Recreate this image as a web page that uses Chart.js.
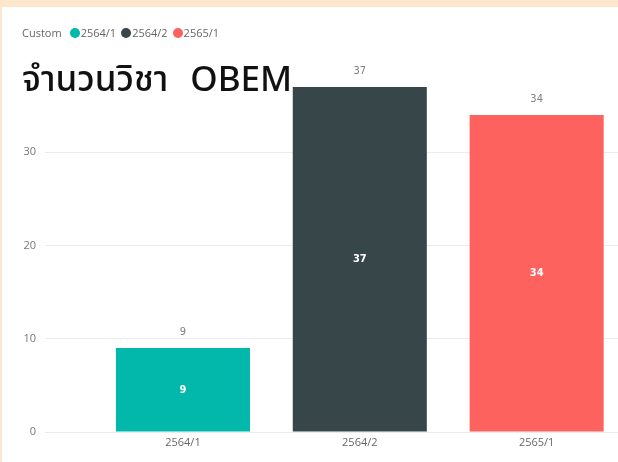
<!DOCTYPE html>
<html>
<head>
<meta charset="utf-8">
<script src="https://cdn.jsdelivr.net/npm/chart.js@4.4.0/dist/chart.umd.min.js"></script>
<style>
  html, body { margin: 0; padding: 0; background: #fff; }
  #wrap { position: relative; width: 618px; height: 462px; overflow: hidden; background: #fff; }
  #topband { position: absolute; left: 0; top: 0; width: 618px; height: 7px; background: #fde6cc; }
  #leftband { position: absolute; left: 0; top: 0; width: 2px; height: 462px; background: #fde6cc; }
  #chart { position: absolute; left: 0; top: 0; }
  #legend { position: absolute; left: 22px; top: 25px; font-family: "Open Sans", "Noto Sans", sans-serif; font-size: 11px; color: #666; display: flex; align-items: center; white-space: nowrap; line-height: 16px; }
  #legend .t { margin-right: 8px; }
  #legend .dot { width: 10px; height: 10px; border-radius: 50%; display: inline-block; margin-right: 1px; }
  #legend .lab { margin-right: 5px; }
  #title { position: absolute; left: 22px; top: 56px; white-space: nowrap; color: #111; font-family: "Noto Sans", "Noto Sans Thai", "DejaVu Sans", sans-serif; font-weight: 500; font-size: 35px; line-height: 44px; word-spacing: 13px; }
</style>
</head>
<body>
<div id="wrap">
  <canvas id="chart" width="618" height="462"></canvas>
  <div id="topband"></div>
  <div id="leftband"></div>
  <div id="legend"></div>
  <div id="title">จำนวนวิชา OBEM</div>
</div>
<script>
const categories = ["2564/1", "2564/2", "2565/1"];
const values = [9, 37, 34];
const barColors = ["#01B8AA", "#374649", "#FD625E"];
const yTicks = [0, 10, 20, 30];
const legendTitle = "Custom";

// HTML legend built from the arrays
const legendEl = document.getElementById('legend');
const t = document.createElement('span'); t.className = 't'; t.textContent = legendTitle; legendEl.appendChild(t);
categories.forEach((c, i) => {
  const d = document.createElement('span'); d.className = 'dot'; d.style.background = barColors[i]; legendEl.appendChild(d);
  const l = document.createElement('span'); l.className = 'lab'; l.textContent = c; legendEl.appendChild(l);
});

const labelPlugin = {
  id: 'barLabels',
  afterDatasetsDraw(chart) {
    const ctx = chart.ctx;
    const meta = chart.getDatasetMeta(0);
    ctx.save();
    ctx.textAlign = 'center';
    ctx.textBaseline = 'middle';
    meta.data.forEach((bar, i) => {
      const v = values[i];
      ctx.font = '11px "DejaVu Sans Condensed", "Liberation Sans Narrow", sans-serif';
      ctx.fillStyle = '#808080';
      ctx.fillText(String(v), bar.x, bar.y - 16);
      ctx.font = 'bold 11px "DejaVu Sans Condensed", "Liberation Sans Narrow", sans-serif';
      ctx.fillStyle = '#ffffff';
      ctx.fillText(String(v), bar.x, (bar.y + bar.base) / 2);
    });
    ctx.restore();
  }
};

new Chart(document.getElementById('chart'), {
  type: 'bar',
  data: {
    datasets: [{
      data: categories.map((c, i) => ({ x: i, y: values[i] })),
      backgroundColor: barColors,
      borderWidth: 0,
      categoryPercentage: 1,
      barPercentage: 0.758
    }]
  },
  options: {
    responsive: false,
    animation: false,
    events: [],
    layout: { padding: { top: 59, left: 0, right: 0, bottom: 0 } },
    plugins: { legend: { display: false }, tooltip: { enabled: false }, title: { display: false } },
    scales: {
      x: {
        type: 'linear',
        offset: false,
        bounds: 'data',
        min: -0.78,
        max: 2.46,
        grid: { display: false, drawTicks: false, offset: false },
        border: { display: false },
        afterBuildTicks: (s) => { s.ticks = categories.map((c, i) => ({ value: i })); },
        afterFit: (s) => { s.height = 30; },
        ticks: {
          padding: 4,
          autoSkip: false,
          maxRotation: 0,
          color: '#666',
          font: { family: '"Open Sans", "Noto Sans", sans-serif', size: 11 },
          callback: (v) => categories[v]
        }
      },
      y: {
        min: 0,
        max: 40,
        grid: { color: '#ebebeb', lineWidth: 1, drawTicks: false },
        border: { display: false },
        afterBuildTicks: (s) => { s.ticks = yTicks.map(v => ({ value: v })); },
        afterFit: (s) => { s.width = 45; },
        ticks: {
          padding: 9,
          color: '#777',
          font: { family: '"Open Sans", "Noto Sans", sans-serif', size: 11 }
        }
      }
    }
  },
  plugins: [labelPlugin]
});
</script>
</body>
</html>
